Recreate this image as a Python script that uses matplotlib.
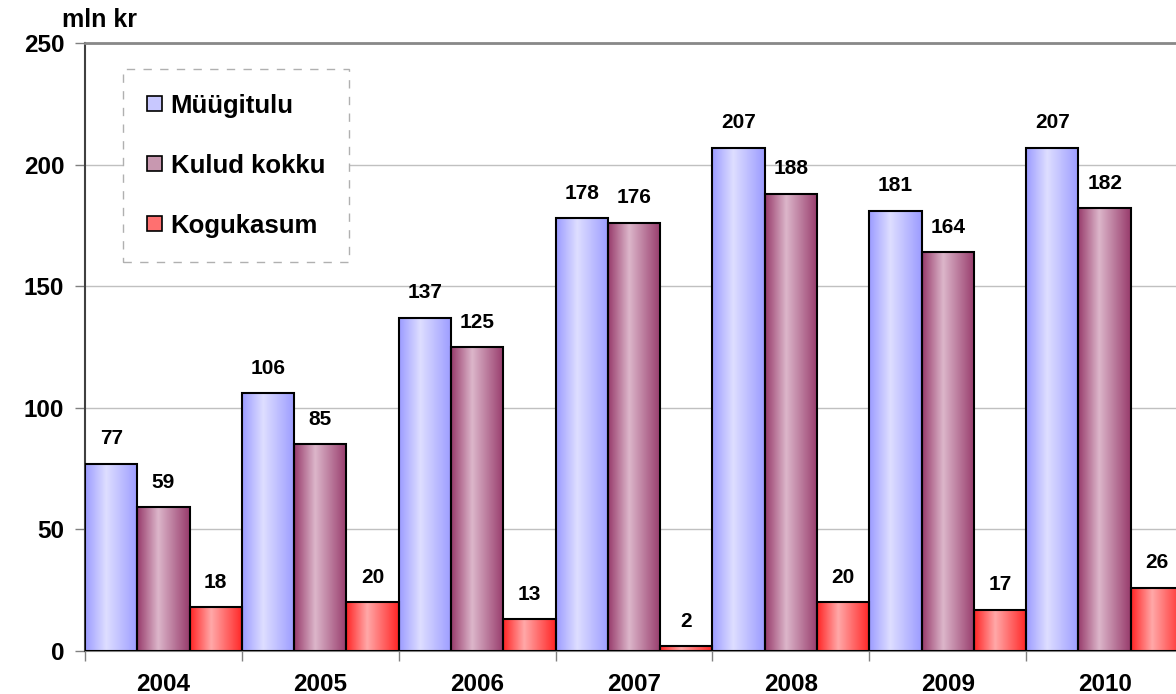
import numpy as np
import matplotlib
matplotlib.use("Agg")
import matplotlib.pyplot as plt
from matplotlib.patches import Patch
from matplotlib.colors import to_rgb

plt.rcParams['font.family'] = ['Liberation Sans', 'DejaVu Sans']
plt.rcParams['font.weight'] = 'bold'

years = ['2004', '2005', '2006', '2007', '2008', '2009', '2010']
myygitulu = [77, 106, 137, 178, 207, 181, 207]
kulud = [59, 85, 125, 176, 188, 164, 182]
kogukasum = [18, 20, 13, 2, 20, 17, 26]

series = [
    ('Müügitulu', myygitulu, '#9c9cff', '#dedeff'),
    ('Kulud kokku', kulud, '#983c6c', '#dcb6ca'),
    ('Kogukasum', kogukasum, '#ff2626', '#ffa8a8'),
]


def gradient(edge, center, n=64):
    t = np.linspace(0, 1, n)
    w = np.interp(t, [0, 0.4, 1], [0, 1, 0])
    e = np.array(to_rgb(edge))
    c = np.array(to_rgb(center))
    row = e[None, :] * (1 - w[:, None]) + c[None, :] * w[:, None]
    return row[None, :, :]


fig = plt.figure(figsize=(11.76, 6.94), dpi=100)
ax = fig.add_axes([0.0723, 0.062, 0.9337, 0.876])

x = np.arange(len(years))
bw = 1 / 3
for k, (name, vals, edge, center) in enumerate(series):
    bars = ax.bar(x + (k - 1) * bw, vals, bw, facecolor='none',
                  edgecolor='black', linewidth=1.5, zorder=4)
    img = gradient(edge, center)
    for b, v in zip(bars, vals):
        x0, y0 = b.get_x(), b.get_y()
        im = ax.imshow(img, extent=(x0, x0 + b.get_width(), y0, y0 + b.get_height()),
                       aspect='auto', zorder=3, interpolation='bilinear')
        im.set_clip_path(b)
        ax.annotate(str(v), (b.get_x() + b.get_width() / 2, v),
                    xytext=(0, 18), textcoords='offset points',
                    ha='center', va='center', fontsize=15, fontweight='bold')

ax.set_xlim(-0.5, len(years) - 0.5)
ax.set_ylim(0, 250)
ax.set_yticks(range(0, 251, 50))
ax.set_xticks(x)
ax.set_xticklabels(years)
ax.set_xticks(np.arange(-0.5, len(years)), minor=True)
ax.tick_params(axis='x', which='major', length=0, pad=16, labelsize=17.5)
ax.tick_params(axis='x', which='minor', length=7, width=1, color='#808080')
ax.tick_params(axis='y', length=7, width=1, color='#808080', pad=8, labelsize=17.5)

ax.grid(axis='y', color='#c0c0c0', linewidth=1, zorder=0)
ax.set_axisbelow(True)
ax.spines['right'].set_visible(False)
ax.spines['top'].set_color('#888888')
ax.spines['top'].set_linewidth(2)
ax.spines['left'].set_color('#404040')
ax.spines['left'].set_linewidth(1.5)
ax.spines['bottom'].set_color('#808080')

handles = [Patch(facecolor=c, edgecolor='black', linewidth=1.2, label=n)
           for n, _, e, c in series]
handles[0].set_facecolor('#c8c8ff')
handles[1].set_facecolor('#c898b0')
handles[2].set_facecolor('#ff7070')
leg = ax.legend(handles=handles, loc='upper left', bbox_to_anchor=(0.0346, 0.957),
                borderaxespad=0, fontsize=18.5, handlelength=0.55, handleheight=0.55,
                handletextpad=0.35, labelspacing=1.4, borderpad=0.95,
                fancybox=False, framealpha=1)
leg.get_frame().set_edgecolor('#b0b0b0')
leg.get_frame().set_linestyle((0, (6, 6)))
leg.get_frame().set_linewidth(1)
for t in leg.get_texts():
    t.set_fontweight('bold')

fig.text(0.0527, 0.971, 'mln kr', ha='left', va='center', fontsize=18,
         fontweight='bold')

fig.savefig('out.png', dpi=100)
